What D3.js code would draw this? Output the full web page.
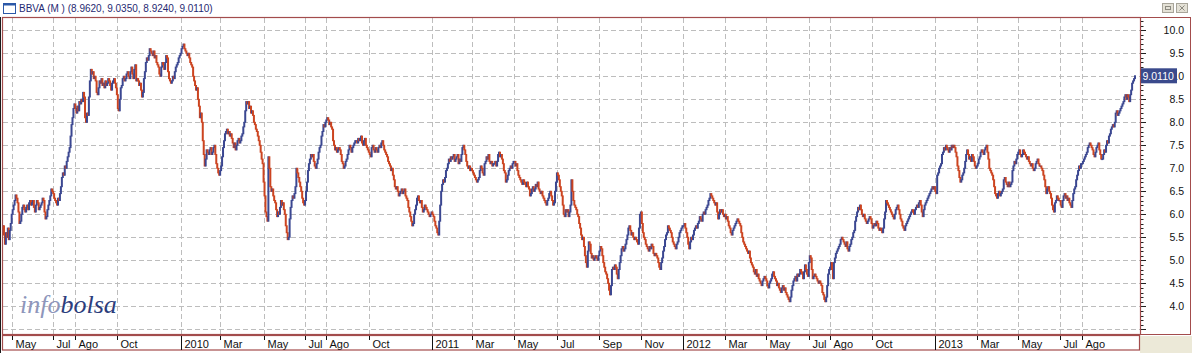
<!DOCTYPE html>
<html>
<head>
<meta charset="utf-8">
<script src="https://cdn.jsdelivr.net/npm/d3@7/dist/d3.min.js"></script>
<style>
  html, body { margin: 0; padding: 0; background: #fff; }
  svg { display: block; font-family: "Liberation Sans", Arial, sans-serif; }
</style>
</head>
<body>
<svg id="chart" width="1192" height="353"></svg>
<script>
// daily closes (trading days, Mon-Fri), one array per year
const close2009 = [ // from 20 Apr
  5.75,5.55,5.35,5.6,5.5,5.7,5.45,5.65,5.8,
  6.0,6.1,6.2,6.3,6.42,6.35,6.25,6.05,5.8,5.85,6.0,6.15,6.2,6.1,6.05,6.15,6.2,6.1,6.25,6.3,6.2,
  6.25,6.3,6.15,6.05,6.2,6.3,6.25,6.1,6.15,6.2,6.25,6.35,6.3,6.05,5.9,5.95,6.1,6.2,6.3,6.4,6.55,6.5,
  6.45,6.35,6.3,6.25,6.2,6.35,6.3,6.45,6.6,6.8,6.9,6.85,7.05,7.0,7.15,7.25,7.35,7.45,7.7,7.95,8.1,8.3,8.4,
  8.3,8.2,8.35,8.25,8.45,8.4,8.5,8.45,8.65,8.55,8.1,8.0,8.2,8.15,8.55,8.9,9.15,9.05,9.1,8.95,9.0,
  8.9,8.65,8.6,8.75,8.9,8.85,8.95,8.8,8.85,8.75,8.9,8.8,8.85,8.95,8.9,8.8,8.7,8.85,8.9,8.95,8.85,8.75,
  8.6,8.3,8.25,8.5,8.75,8.8,8.95,9.0,8.9,8.95,9.05,9.1,9.0,8.95,9.1,9.2,9.05,8.95,9.15,9.25,8.9,8.95,
  8.9,8.8,8.85,8.7,8.55,8.65,8.95,9.1,9.3,9.4,9.35,9.45,9.6,9.55,9.5,9.45,9.55,9.4,9.45,9.3,9.25,
  9.2,9.05,9.0,9.2,9.3,9.25,9.15,9.3,9.45,9.4,9.1,8.95,8.9,8.85,8.9,9.0,8.95,9.1,9.2,9.25,9.3,9.4,9.45
];
const close2010 = [
  9.5,9.6,9.65,9.7,9.6,9.55,9.5,9.45,9.5,9.4,9.3,9.25,9.2,9.0,8.9,8.8,8.7,8.75,8.5,8.35,8.1,
  8.2,8.0,7.6,7.3,7.05,7.2,7.4,7.35,7.3,7.4,7.45,7.3,7.35,7.45,7.5,7.3,7.1,7.0,6.9,6.85,
  6.95,7.05,7.25,7.45,7.6,7.75,7.8,7.85,7.75,7.8,7.7,7.75,7.65,7.55,7.45,7.55,7.4,7.5,7.6,7.65,7.55,7.6,7.7,
  7.75,7.9,8.0,8.25,8.45,8.4,8.45,8.3,8.35,8.2,8.25,8.15,8.0,7.95,7.85,7.8,7.7,7.6,7.5,7.35,7.2,7.1,
  6.7,6.4,6.05,5.95,5.85,7.25,7.0,6.6,6.5,6.55,6.4,6.3,6.25,6.1,5.95,6.05,6.0,6.15,6.3,6.2,6.25,
  6.1,6.0,5.75,5.6,5.45,5.5,5.9,6.15,6.3,6.4,6.35,6.45,6.6,7.0,6.9,6.8,6.7,6.6,6.5,6.35,6.25,6.2,
  6.3,6.5,6.7,6.95,7.1,7.2,7.3,7.25,7.3,7.15,7.05,7.0,7.1,7.2,7.35,7.45,7.5,7.7,7.8,7.95,7.9,8.0,
  8.05,8.1,8.05,7.95,8.0,7.9,7.85,7.6,7.5,7.4,7.45,7.35,7.4,7.45,7.4,7.3,7.15,7.1,7.0,7.05,7.15,7.2,
  7.3,7.4,7.5,7.45,7.35,7.45,7.5,7.55,7.6,7.6,7.55,7.65,7.6,7.65,7.7,7.55,7.5,7.6,7.65,7.5,7.45,7.4,
  7.35,7.3,7.25,7.45,7.5,7.4,7.35,7.45,7.4,7.35,7.45,7.5,7.45,7.55,7.6,7.5,7.4,7.35,7.3,7.25,7.15,
  7.1,7.05,6.95,7.0,6.85,6.75,6.6,6.55,6.6,6.5,6.4,6.45,6.5,6.55,6.45,6.5,6.55,6.4,6.35,6.3,6.15,6.05,
  5.95,5.85,5.75,5.8,6.0,6.1,6.2,6.35,6.4,6.3,6.25,6.3,6.15,6.05,6.1,6.2,6.15,6.1,6.05,6.0,5.95,6.0,6.05
];
const close2011 = [
  6.0,5.95,5.85,5.75,5.7,5.6,5.55,5.85,6.2,6.5,6.65,6.75,6.7,6.8,6.95,7.0,7.1,7.2,7.15,7.25,7.2,
  7.25,7.3,7.15,7.2,7.25,7.3,7.1,7.2,7.15,7.3,7.45,7.5,7.4,7.3,7.15,7.05,7.0,7.05,6.95,7.0,
  6.95,6.9,6.85,6.8,6.75,6.7,6.75,6.8,6.95,7.05,7.0,6.9,6.85,7.1,7.15,7.25,7.2,7.3,7.15,7.1,7.15,7.05,7.1,
  7.1,7.15,7.05,7.15,7.3,7.35,7.25,7.3,7.2,7.1,6.95,6.9,6.7,6.75,6.85,6.95,7.0,7.05,7.0,7.1,7.15,
  7.15,7.05,7.1,6.95,6.85,6.8,6.75,6.7,6.65,6.75,6.7,6.65,6.6,6.7,6.6,6.55,6.4,6.45,6.55,6.6,6.5,6.55,
  6.65,6.6,6.7,6.55,6.5,6.45,6.5,6.4,6.35,6.3,6.25,6.2,6.3,6.35,6.45,6.5,6.4,6.3,6.2,6.25,6.5,6.7,
  6.9,6.85,6.75,6.6,6.5,6.4,6.2,6.0,5.95,6.1,6.05,6.1,5.95,6.05,6.2,6.75,6.5,6.3,6.2,6.15,6.1,
  6.0,5.95,5.8,5.7,5.55,5.45,5.5,5.3,5.1,4.95,4.85,5.2,5.4,5.35,5.15,5.05,5.1,5.0,5.05,5.1,5.05,5.0,5.1,
  5.2,5.3,5.25,5.1,4.95,4.85,4.75,4.7,4.6,4.5,4.35,4.25,4.45,4.8,4.85,4.8,4.9,4.85,4.7,4.6,4.8,4.95,
  5.1,5.25,5.3,5.2,5.25,5.35,5.45,5.55,5.7,5.75,5.65,5.55,5.6,5.5,5.45,5.5,5.45,5.4,5.35,5.7,6.0,
  6.05,5.8,5.6,5.5,5.45,5.35,5.3,5.25,5.2,5.3,5.25,5.35,5.3,5.15,5.1,5.15,5.1,5.05,4.95,4.85,4.8,4.95,
  5.05,5.2,5.3,5.45,5.55,5.6,5.75,5.7,5.65,5.6,5.5,5.4,5.35,5.3,5.25,5.35,5.4,5.5,5.6,5.65,5.7,5.75
];
const close2012 = [
  5.75,5.8,5.7,5.6,5.5,5.35,5.25,5.4,5.5,5.45,5.55,5.65,5.7,5.75,5.7,5.8,5.85,5.95,5.9,5.85,6.0,6.05,
  6.0,6.1,6.15,6.2,6.3,6.35,6.45,6.4,6.35,6.3,6.25,6.2,6.25,6.05,5.9,6.0,6.1,6.05,6.1,6.0,5.95,
  6.0,5.9,5.95,5.85,5.75,5.7,5.6,5.55,5.65,5.7,5.75,5.8,5.85,5.9,5.85,5.8,5.75,5.6,5.5,5.4,5.35,5.3,
  5.25,5.2,5.15,5.2,5.05,4.95,4.9,4.85,4.75,4.7,4.8,4.65,4.7,4.6,4.55,4.5,4.45,4.55,4.6,4.65,4.6,
  4.55,4.45,4.4,4.5,4.55,4.6,4.7,4.75,4.65,4.6,4.55,4.45,4.5,4.4,4.35,4.3,4.4,4.45,4.35,4.4,4.3,4.25,4.2,
  4.15,4.1,4.2,4.35,4.45,4.55,4.6,4.65,4.55,4.7,4.65,4.7,4.8,4.75,4.7,4.6,4.75,4.9,4.8,4.7,4.65,
  4.95,5.1,5.05,4.8,4.6,4.65,4.7,4.65,4.6,4.55,4.5,4.55,4.5,4.45,4.3,4.25,4.15,4.1,4.2,4.45,4.7,4.8,
  4.85,4.95,4.8,4.6,4.95,5.05,5.15,5.2,5.25,5.3,5.35,5.45,5.5,5.45,5.4,5.35,5.3,5.4,5.25,5.2,5.3,5.35,5.45,
  5.5,5.6,5.65,5.85,5.95,6.05,6.15,6.1,6.2,6.1,6.0,5.95,6.0,5.9,5.85,5.8,5.85,5.9,5.95,5.9,
  5.8,5.7,5.75,5.8,5.75,5.85,5.8,5.7,5.65,5.7,5.65,5.6,5.7,5.9,6.05,6.3,6.25,6.2,6.15,6.1,6.05,6.0,5.95,
  5.9,6.0,6.1,6.15,6.2,6.1,6.0,5.9,5.85,5.75,5.7,5.65,5.75,5.8,5.85,5.9,5.95,6.0,6.05,6.1,6.05,6.0,
  6.1,6.15,6.2,6.15,6.25,6.3,6.2,6.05,5.95,6.1,6.2,6.25,6.3,6.35,6.4,6.45,6.5,6.55,6.6,6.55,6.6
];
const close2013 = [ // to 17 Oct
  6.5,6.45,6.85,6.9,7.0,7.05,7.1,7.3,7.35,7.45,7.4,7.5,7.45,7.4,7.35,7.45,7.4,7.5,7.45,7.5,7.45,7.35,7.25,
  7.05,6.95,6.8,6.7,6.75,6.85,6.9,7.0,7.15,7.3,7.4,7.3,7.2,7.25,7.15,7.3,7.25,7.15,7.05,7.0,
  7.05,7.1,7.2,7.25,7.35,7.4,7.35,7.3,7.4,7.45,7.5,7.35,7.2,7.0,6.95,6.9,6.85,6.75,6.6,6.45,6.4,
  6.35,6.45,6.5,6.4,6.45,6.5,6.55,6.75,6.8,6.7,6.65,6.6,6.7,6.6,6.65,6.7,6.95,7.05,7.15,7.1,7.2,7.3,
  7.35,7.4,7.3,7.25,7.3,7.4,7.35,7.3,7.25,7.2,7.25,7.15,7.1,7.05,7.1,7.0,6.95,7.0,7.1,7.15,7.2,7.1,7.05,
  7.05,7.0,6.95,6.85,6.75,6.6,6.45,6.55,6.6,6.5,6.45,6.35,6.2,6.1,6.05,6.25,6.3,6.4,6.35,6.3,
  6.3,6.2,6.15,6.3,6.4,6.45,6.35,6.4,6.3,6.35,6.25,6.2,6.15,6.3,6.45,6.55,6.6,6.75,6.85,6.95,7.05,7.0,7.1,
  7.1,7.15,7.2,7.25,7.3,7.35,7.45,7.5,7.55,7.5,7.45,7.4,7.3,7.25,7.35,7.45,7.5,7.55,7.4,7.3,7.2,7.2,
  7.3,7.4,7.35,7.5,7.6,7.55,7.7,7.75,7.85,7.9,7.95,7.9,8.0,8.2,8.25,8.15,8.2,8.25,8.3,8.35,8.4,
  8.45,8.55,8.6,8.5,8.6,8.55,8.45,8.6,8.7,8.85,8.9,8.95,9.011
];
const yearStarts = ["2009-04-20", "2010-01-01", "2011-01-01", "2012-01-01", "2013-01-01"];
const lastBar = [8.962, 9.035, 8.924, 9.011]; // open, high, low, close

const priceLabels = [4.0, 4.5, 5.0, 5.5, 6.0, 6.5, 7.0, 7.5, 8.0, 8.5, 9.0, 9.5, 10.0];
const gridValues = [3.5, 4.0, 4.5, 5.0, 5.5, 6.0, 6.5, 7.0, 7.5, 8.0, 8.5, 9.0, 9.5, 10.0];
const monthTicks = ["2009-05","2009-07","2009-08","2009-10","2010-01","2010-03","2010-05","2010-07","2010-08","2010-10",
  "2011-01","2011-03","2011-05","2011-07","2011-09","2011-11","2012-01","2012-03","2012-05","2012-07","2012-08","2012-10",
  "2013-01","2013-03","2013-05","2013-07","2013-08"];
const monthLabels = ["May","Jul","Ago","Oct","2010","Mar","May","Jul","Ago","Oct",
  "2011","Mar","May","Jul","Sep","Nov","2012","Mar","May","Jul","Ago","Oct",
  "2013","Mar","May","Jul","Ago"];

const titleText = "BBVA (M ) (" + lastBar.map(v => v.toFixed(4)).join(", ") + ")";

// ---- build bars ----
const bars = [];
[close2009, close2010, close2011, close2012, close2013].forEach((arr, k) => {
    const d = new Date(yearStarts[k] + "T12:00:00");
    arr.forEach(c => {
        while (d.getDay() === 0 || d.getDay() === 6) d.setDate(d.getDate() + 1);
        bars.push({ date: new Date(d), close: c });
        d.setDate(d.getDate() + 1);
    });
});
bars.forEach((b, i) => { b.prev = i > 0 ? bars[i - 1].close : b.close; });

const svg = d3.select("#chart");
const plot = { left: 2, top: 17, right: 1140, bottom: 334 };
const blue = "#3b4791", red = "#cc4420", frameColor = "#a34c4c";

const x = d3.scaleLinear().domain([0, bars.length - 1]).range([3, 1135]);
const y = d3.scaleLinear().domain([3.5, 10]).range([329.3, 30.3]);
const ym = d3.timeFormat("%Y-%m");
const tickIdx = monthTicks.map(m => bars.findIndex(b => ym(b.date) === m));

svg.append("rect").attr("width", 1192).attr("height", 353).attr("fill", "#fff");

// header
svg.append("rect").attr("x", 3.5).attr("y", 3.5).attr("width", 12).attr("height", 10)
    .attr("fill", "#fff").attr("stroke", "#2b58a8");
svg.append("rect").attr("x", 3).attr("y", 3).attr("width", 13).attr("height", 2.5).attr("fill", "#2b58a8");
svg.append("text").attr("x", 19).attr("y", 11.5).attr("font-size", 10).attr("fill", "#1f2a72").text(titleText);

// window buttons
[1162, 1176].forEach((bx, k) => {
    const g = svg.append("g").attr("transform", `translate(${bx},3)`);
    g.append("rect").attr("x", 0.5).attr("y", 0.5).attr("width", 11).attr("height", 9)
        .attr("fill", "#e4e1d6").attr("stroke", "#a8a59a");
    if (k === 0) {
        g.append("rect").attr("x", 3.5).attr("y", 3.5).attr("width", 5).attr("height", 3)
            .attr("fill", "none").attr("stroke", "#8c8a80");
    } else {
        g.append("path").attr("d", "M3.5,2.5L8.5,7.5M8.5,2.5L3.5,7.5").attr("stroke", "#8c8a80");
    }
});

// grid
const grid = svg.append("g").attr("stroke", "#bdbdbd").attr("stroke-dasharray", "5,3");
grid.selectAll("line.h").data(gridValues).join("line").attr("class", "h")
    .attr("x1", plot.left + 1).attr("x2", plot.right)
    .attr("y1", d => Math.round(y(d)) + 0.5).attr("y2", d => Math.round(y(d)) + 0.5);
grid.selectAll("line.v").data(tickIdx).join("line").attr("class", "v")
    .attr("x1", d => Math.round(x(d)) + 0.5).attr("x2", d => Math.round(x(d)) + 0.5)
    .attr("y1", plot.top + 1).attr("y2", plot.bottom);

// watermark
const wm = svg.append("text").attr("x", 20).attr("y", 313)
    .attr("font-family", "'Liberation Serif', 'DejaVu Serif', serif")
    .attr("font-style", "italic").attr("font-size", 26);
wm.append("tspan").attr("fill", "#8e96bb").text("info");
wm.append("tspan").attr("fill", "#2c3d7c").text("bolsa");

// bars
svg.append("clipPath").attr("id", "clip").append("rect")
    .attr("x", plot.left).attr("y", plot.top).attr("width", plot.right - plot.left).attr("height", plot.bottom - plot.top);
svg.append("g").attr("clip-path", "url(#clip)")
    .selectAll("rect").data(bars).join("rect")
    .attr("x", (d, i) => x(i) - 1)
    .attr("width", 2)
    .attr("y", d => y(Math.max(d.prev, d.close)) - 0.5)
    .attr("height", d => Math.max(1.5, Math.abs(y(d.prev) - y(d.close)) + 1))
    .attr("fill", d => d.close >= d.prev ? blue : red);

// frames
svg.append("line").attr("x1", 0.5).attr("x2", 0.5).attr("y1", plot.top).attr("y2", 353)
    .attr("stroke", "#1a1a1a");
svg.append("rect").attr("x", plot.left + 0.5).attr("y", plot.top + 0.5)
    .attr("width", plot.right - plot.left).attr("height", plot.bottom - plot.top)
    .attr("fill", "none").attr("stroke", frameColor).attr("stroke-width", 1.2);
svg.append("rect").attr("x", plot.right + 0.5).attr("y", plot.top + 0.5)
    .attr("width", 1190 - plot.right).attr("height", plot.bottom - plot.top)
    .attr("fill", "none").attr("stroke", frameColor);

// right axis ticks
const minor = d3.range(35, 103).map(v => v / 10);
svg.append("g").attr("stroke", "#222")
    .selectAll("line").data(minor).join("line")
    .attr("x1", plot.right + 1).attr("x2", d => Math.abs(d * 2 - Math.round(d * 2)) < 1e-6 ? plot.right + 6 : plot.right + 3.5)
    .attr("y1", d => Math.round(y(d)) + 0.5).attr("y2", d => Math.round(y(d)) + 0.5);
svg.append("g").selectAll("text").data(priceLabels).join("text")
    .attr("x", 1184).attr("y", d => y(d) + 3.8).attr("text-anchor", "end")
    .attr("font-size", 10.5).attr("fill", "#111").text(d => d.toFixed(1));

// last price box (drawn over the 9.0 label, as in the terminal)
const lastY = y(lastBar[3]);
svg.append("rect").attr("x", 1141).attr("y", lastY - 7.5).attr("width", 36).attr("height", 15)
    .attr("fill", "#3a4a8c");
svg.append("text").attr("x", 1142.5).attr("y", lastY + 3.8).attr("font-size", 10.5)
    .attr("fill", "#fff").text(lastBar[3].toFixed(4));

// x axis box
svg.append("rect").attr("x", 1140).attr("y", 336).attr("width", 52).attr("height", 17).attr("fill", "#ece9d8");
svg.append("rect").attr("x", plot.left + 0.5).attr("y", plot.bottom + 1.5)
    .attr("width", plot.right - plot.left - 1).attr("height", 14.5)
    .attr("fill", "#fff").attr("stroke", frameColor).attr("stroke-width", 1.2);
const xt = svg.append("g");
xt.selectAll("line").data(tickIdx).join("line")
    .attr("x1", d => Math.round(x(d)) + 0.5).attr("x2", d => Math.round(x(d)) + 0.5)
    .attr("y1", plot.bottom + 2)
    .attr("y2", (d, i) => /^\d{4}$/.test(monthLabels[i]) ? 350 : plot.bottom + 6)
    .attr("stroke", "#111");
xt.selectAll("text").data(tickIdx).join("text")
    .attr("x", d => Math.round(x(d)) + 3.5).attr("y", 347.5)
    .attr("font-size", 11).attr("fill", "#111")
    .text((d, i) => monthLabels[i]);
</script>
</body>
</html>
